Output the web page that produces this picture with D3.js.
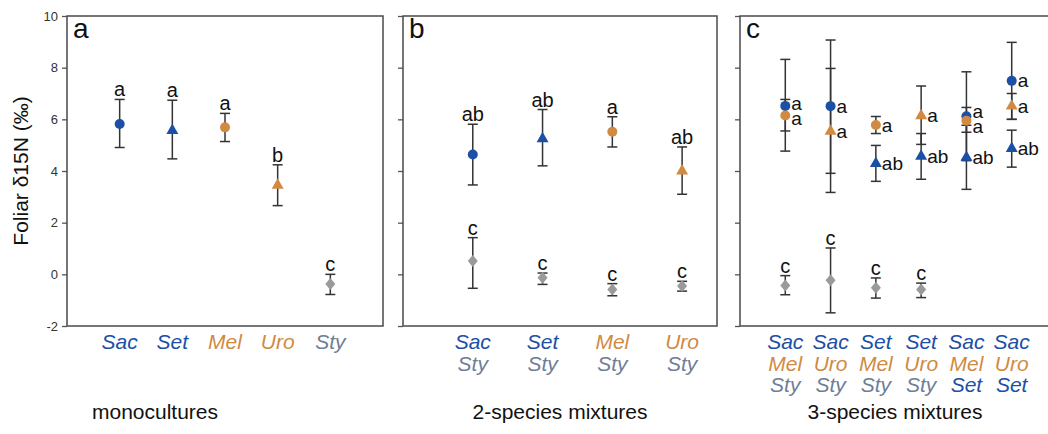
<!DOCTYPE html>
<html>
<head>
<meta charset="utf-8">
<script src="https://cdn.jsdelivr.net/npm/d3@7"></script>
<style>
  body { margin: 0; background: #fff; }
  svg { font-family: "Liberation Sans", Arial, sans-serif; }
</style>
</head>
<body>
<div id="chart"></div>
<script>
// ---- data ----
const yTicks = [-2, 0, 2, 4, 6, 8, 10];

// monocultures
const monoCats = ["Sac", "Set", "Mel", "Uro", "Sty"];
const monoMean = [5.82, 5.57, 5.69, 3.45, -0.37];
const monoLow = [4.91, 4.47, 5.14, 2.66, -0.78];
const monoHigh = [6.77, 6.74, 6.23, 4.24, 0.0];
const monoLetter = ["a", "a", "a", "b", "c"];

// 2-species mixtures
const twoCats = [["Sac", "Sty"], ["Set", "Sty"], ["Mel", "Sty"], ["Uro", "Sty"]];
const twoMean = [4.64, 5.25, 5.52, 4.0];
const twoLow = [3.46, 4.2, 4.93, 3.1];
const twoHigh = [5.81, 6.38, 6.10, 4.93];
const twoLetter = ["ab", "ab", "a", "ab"];
const twoStyMean = [0.52, -0.13, -0.59, -0.45];
const twoStyLow = [-0.54, -0.39, -0.83, -0.65];
const twoStyHigh = [1.42, 0.05, -0.36, -0.27];
const twoStyLetter = ["c", "c", "c", "c"];

// 3-species mixtures
const threeCats = [["Sac", "Mel", "Sty"], ["Sac", "Uro", "Sty"], ["Set", "Mel", "Sty"],
                   ["Set", "Uro", "Sty"], ["Sac", "Mel", "Set"], ["Sac", "Uro", "Set"]];
const threeMean = [[6.52, 6.15, -0.43], [6.51, 5.54, -0.23], [4.29, 5.78, -0.52],
                   [4.57, 6.14, -0.59], [6.12, 5.95, 4.53], [7.49, 6.51, 4.87]];
const threeLow = [[4.77, 5.55, -0.79], [3.91, 3.17, -1.49], [3.6, 5.45, -0.92],
                  [3.68, 5.03, -0.90], [4.4, 5.5, 3.29], [6.0, 6.0, 4.15]];
const threeHigh = [[8.32, 6.77, -0.05], [9.07, 7.97, 1.02], [4.99, 6.11, -0.14],
                   [5.45, 7.29, -0.34], [7.84, 6.46, 5.77], [8.98, 7.0, 5.58]];
const threeLetter = [["a", "a", "c"], ["a", "a", "c"], ["ab", "a", "c"],
                     ["ab", "a", "c"], ["a", "a", "ab"], ["a", "a", "ab"]];

// ---- styles per species ----
const blue = "#1c4fa6", orange = "#d08a42", grey = "#9a9a9a", styText = "#6f7e98";
const markerColor = { Sac: blue, Set: blue, Mel: orange, Uro: orange, Sty: grey };
const labelColor = { Sac: blue, Set: blue, Mel: orange, Uro: orange, Sty: styText };
const markerShape = { Sac: "circle", Set: "triangle", Mel: "circle", Uro: "triangle", Sty: "diamond" };

const W = 1048, H = 434;
const svg = d3.select("#chart").append("svg").attr("width", W).attr("height", H);

const y = d3.scaleLinear().domain([-2, 10]).range([326, 16]);

const panels = [
  { left: 67, right: 383, name: "a", title: "monocultures", titleX: 155 },
  { left: 403, right: 717, name: "b", title: "2-species mixtures", titleX: 560 },
  { left: 740, right: 1057, name: "c", title: "3-species mixtures", titleX: 895 }
];

const xA = d3.scalePoint().domain(monoCats).range([67, 383]).padding(1);
const xB = d3.scaleLinear().domain([0, 4.5]).range([403, 717]);
const xC = d3.scaleLinear().domain([0, 7]).range([740, 1057]);

// frames + y axes
panels.forEach((p, i) => {
  const ax = d3.axisLeft(y).tickValues(yTicks).tickSize(5).tickPadding(4)
    .tickFormat(i === 0 ? (d => String(d)) : "");
  const g = svg.append("g").attr("transform", `translate(${p.left},0)`).call(ax);
  g.select(".domain").remove();
  g.selectAll(".tick line").attr("stroke", "#555").attr("stroke-width", 1.3);
  g.selectAll(".tick text").attr("font-size", 13).attr("fill", "#333")
    .attr("font-family", "Liberation Sans, Arial, sans-serif");
  svg.append("rect")
    .attr("x", p.left).attr("y", y(10))
    .attr("width", p.right - p.left).attr("height", y(-2) - y(10))
    .attr("fill", "none").attr("stroke", "#4a4a4a").attr("stroke-width", 1.5);
  svg.append("text").attr("x", p.left + 6).attr("y", 38)
    .attr("font-size", 28).attr("fill", "#111").text(p.name);
  svg.append("text").attr("x", p.titleX).attr("y", 419)
    .attr("text-anchor", "middle").attr("font-size", 21).attr("fill", "#111")
    .text(p.title);
});

svg.append("text")
  .attr("transform", `translate(28,${y(4)}) rotate(-90)`)
  .attr("text-anchor", "middle").attr("font-size", 21).attr("fill", "#111")
  .text("Foliar δ15N (‰)");

// marker drawing
function marker(g, sp, cx, cy) {
  const col = markerColor[sp];
  const shape = markerShape[sp];
  if (shape === "circle") {
    g.append("circle").attr("cx", cx).attr("cy", cy).attr("r", 5).attr("fill", col);
  } else if (shape === "triangle") {
    g.append("path").attr("d", d3.symbol(d3.symbolTriangle, 62)())
      .attr("transform", `translate(${cx},${cy})`).attr("fill", col);
  } else {
    g.append("path").attr("d", "M0,-6L5,0L0,6L-5,0Z")
      .attr("transform", `translate(${cx},${cy})`).attr("fill", col);
  }
}

function errBar(g, cx, lo, hi) {
  const s = "#333";
  g.append("line").attr("x1", cx).attr("x2", cx).attr("y1", y(lo)).attr("y2", y(hi))
    .attr("stroke", s).attr("stroke-width", 1.5);
  [lo, hi].forEach(v => g.append("line").attr("x1", cx - 5).attr("x2", cx + 5)
    .attr("y1", y(v)).attr("y2", y(v)).attr("stroke", s).attr("stroke-width", 1.5));
}

function topLetter(g, cx, hi, t) {
  g.append("text").attr("x", cx).attr("y", y(hi) - 3).attr("text-anchor", "middle")
    .attr("font-size", 20).attr("fill", "#111").text(t);
}

function sideLetter(g, cx, cy, t) {
  g.append("text").attr("x", cx + 6).attr("y", cy).attr("dy", "0.35em")
    .attr("font-size", 19).attr("fill", "#111").text(t);
}

// panel a
const gA = svg.append("g");
monoCats.forEach((c, i) => {
  const cx = xA(c);
  errBar(gA, cx, monoLow[i], monoHigh[i]);
  marker(gA, c, cx, y(monoMean[i]));
  topLetter(gA, cx, monoHigh[i], monoLetter[i]);
  gA.append("text").attr("x", cx).attr("y", 349).attr("text-anchor", "middle")
    .attr("font-size", 21).attr("font-style", "italic").attr("fill", labelColor[c]).text(c);
});

// panel b
const gB = svg.append("g");
twoCats.forEach((pair, i) => {
  const cx = xB(i + 1);
  errBar(gB, cx, twoLow[i], twoHigh[i]);
  marker(gB, pair[0], cx, y(twoMean[i]));
  topLetter(gB, cx, twoHigh[i], twoLetter[i]);
  errBar(gB, cx, twoStyLow[i], twoStyHigh[i]);
  marker(gB, "Sty", cx, y(twoStyMean[i]));
  topLetter(gB, cx, twoStyHigh[i], twoStyLetter[i]);
  pair.forEach((sp, k) => gB.append("text").attr("x", cx).attr("y", 349 + k * 21.5)
    .attr("text-anchor", "middle").attr("font-size", 21).attr("font-style", "italic")
    .attr("fill", labelColor[sp]).text(sp));
});

// panel c
const gC = svg.append("g");
threeCats.forEach((mix, i) => {
  const cx = xC(i + 1);
  mix.forEach((sp, k) => errBar(gC, cx, threeLow[i][k], threeHigh[i][k]));
  // side letters, pushed apart a little when markers sit close together
  const side = [];
  mix.forEach((sp, k) => {
    const cy = y(threeMean[i][k]);
    marker(gC, sp, cx, cy);
    if (sp === "Sty") topLetter(gC, cx, threeHigh[i][k], threeLetter[i][k]);
    else side.push({ y: cy, t: threeLetter[i][k] });
  });
  side.sort((a, b) => a.y - b.y);
  for (let k = 1; k < side.length; k++) {
    const gap = side[k].y - side[k - 1].y;
    if (gap < 15) {
      const d = (15 - gap) / 2;
      side[k - 1].y -= d;
      side[k].y += d;
    }
  }
  side.forEach(s => sideLetter(gC, cx, s.y, s.t));
  mix.forEach((sp, k) => gC.append("text").attr("x", cx).attr("y", 349 + k * 21.5)
    .attr("text-anchor", "middle").attr("font-size", 21).attr("font-style", "italic")
    .attr("fill", labelColor[sp]).text(sp));
});
</script>
</body>
</html>
